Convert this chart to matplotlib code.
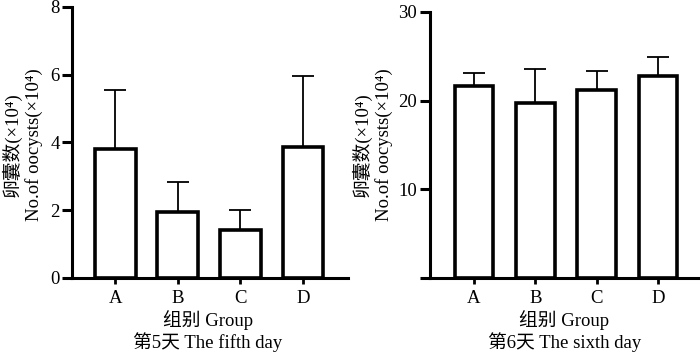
import numpy as np
import matplotlib
matplotlib.use("Agg")
import matplotlib.pyplot as plt

plt.rcParams['font.family'] = ['Liberation Serif', 'Noto Sans CJK SC', 'DejaVu Serif']
plt.rcParams['font.size'] = 13.5

groups = ['A', 'B', 'C', 'D']
day5_mean = [3.82, 1.96, 1.43, 3.87]
day5_err = [1.74, 0.87, 0.58, 2.09]
day6_mean = [21.6, 19.7, 21.2, 22.8]
day6_err = [1.5, 3.9, 2.1, 2.1]

fig = plt.figure(figsize=(7, 3.53), dpi=100)
ax1 = fig.add_axes([0.103, 0.2125, 0.394, 0.768])
ax2 = fig.add_axes([0.614, 0.2125, 0.383, 0.754])

def draw(ax, means, errs, ylim, yticks, ylabels, xlim, width):
    x = np.arange(len(groups))
    ax.errorbar(x, means, yerr=[np.zeros(len(errs)), errs], fmt='none',
                ecolor='black', elinewidth=1.3, capsize=8, capthick=1.3, zorder=1)
    ax.bar(x, means, width=width, color='white', edgecolor='black', linewidth=2.6, zorder=2)
    ax.set_xlim(*xlim)
    ax.set_ylim(*ylim)
    ax.set_xticks(x)
    ax.set_xticklabels(groups)
    ax.set_yticks(yticks)
    ax.set_yticklabels(ylabels)
    for s in ['top', 'right']:
        ax.spines[s].set_visible(False)
    for s in ['left', 'bottom']:
        ax.spines[s].set_linewidth(2.2)
    ax.tick_params(axis='y', length=7, width=2.2, pad=2)
    ax.tick_params(axis='x', length=4, width=2, pad=5)
    ax.margins(0)

draw(ax1, day5_mean, day5_err, (0, 8), [0, 2, 4, 6, 8], ['0', '2', '4', '6', '8'],
     (-0.69, 3.72), 0.65)
draw(ax2, day6_mean, day6_err, (0, 30), [0, 10, 20, 30], ['', '10', '20', '30'],
     (-0.72, 3.65), 0.63)

# y labels (two lines each)
for x0 in [0.0, 0.5]:
    fig.text(x0 + 0.016, 0.59, '卵囊数(×10⁴)', rotation=90, ha='center', va='center')
    fig.text(x0 + 0.048, 0.59, 'No.of oocysts(×10⁴)', rotation=90, ha='center', va='center')

# x labels
fig.text(0.297, 0.093, '组别 Group', ha='center', va='center')
fig.text(0.297, 0.030, '第5天 The fifth day', ha='center', va='center')
fig.text(0.806, 0.093, '组别 Group', ha='center', va='center')
fig.text(0.806, 0.030, '第6天 The sixth day', ha='center', va='center')

fig.savefig('out.png', dpi=100)
